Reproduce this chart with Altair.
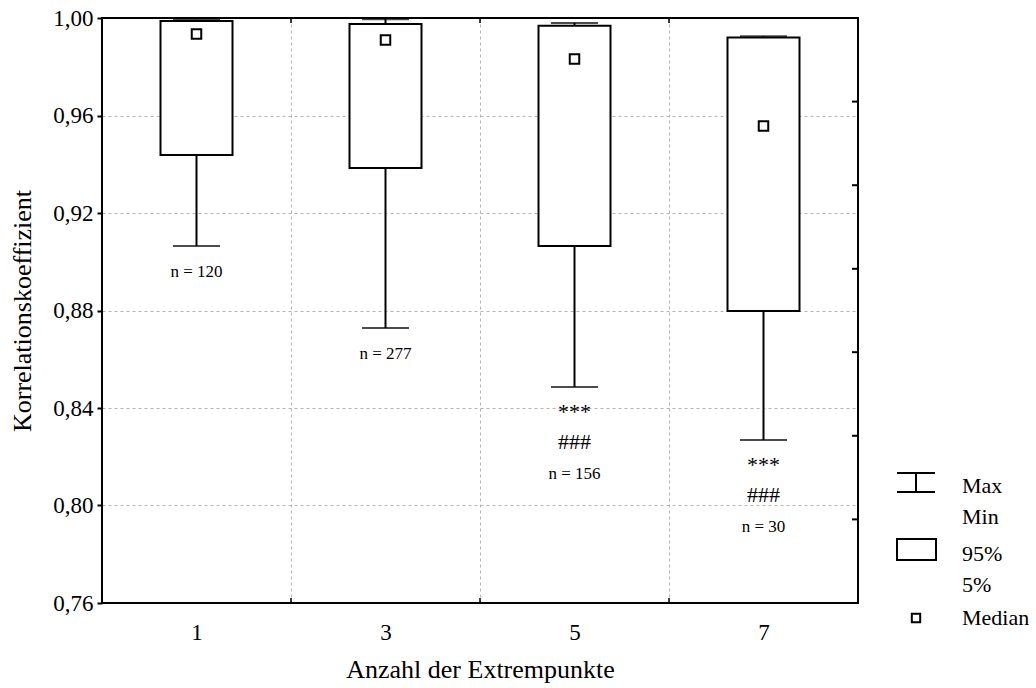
import altair as alt
import pandas as pd

# ---- data ----
categories = ["1", "3", "5", "7"]
max_vals = [0.9993, 0.9995, 0.9980, 0.9925]
p95_vals = [0.9988, 0.9975, 0.9968, 0.9920]
median_vals = [0.9934, 0.9910, 0.9832, 0.9557]
p5_vals = [0.9438, 0.9385, 0.9065, 0.8798]
min_vals = [0.9065, 0.8728, 0.8486, 0.8269]
n_labels = ["n = 120", "n = 277", "n = 156", "n = 30"]
star_labels = ["", "", "***", "***"]
hash_labels = ["", "", "###", "###"]
y_ticks = [0.76, 0.80, 0.84, 0.88, 0.92, 0.96, 1.00]
right_ticks = [0.7943, 0.8286, 0.8629, 0.8971, 0.9314, 0.9657]
legend_labels = ["Max", "Min", "95%", "5%", "Median"]

df = pd.DataFrame({
    "cat": categories, "max": max_vals, "p95": p95_vals, "median": median_vals,
    "p5": p5_vals, "min": min_vals, "n": n_labels, "stars": star_labels,
    "hashes": hash_labels,
})
df_right = pd.DataFrame({"v": right_ticks})
one = pd.DataFrame({"k": [0]})

W, H = 756, 585
FONT = "Liberation Serif"
GRID = "#b4b4b4"

yscale = alt.Scale(domain=[0.76, 1.0], nice=False, zero=False)
yaxis = alt.Axis(
    values=y_ticks,
    labelExpr="replace(format(datum.value, '.2f'), '.', ',')",
    grid=True, gridDash=[3, 3], gridColor=GRID, gridWidth=1,
    domain=False, tickSize=5, tickColor="black", tickWidth=2,
    labelFontSize=23, labelPadding=4, labelColor="black", labelFont=FONT,
    titleFontSize=26, titleFont=FONT, titleFontWeight="normal", titleColor="black",
    titlePadding=17,
)
TITLE_Y = "Korrelationskoeffizient"


def Y(field):
    return alt.Y(field, type="quantitative", scale=yscale, axis=yaxis, title=TITLE_Y)


def Y2(field):
    return alt.Y2(field)


X = alt.X(
    "cat:N", sort=categories, title="Anzahl der Extrempunkte",
    scale=alt.Scale(paddingInner=0, paddingOuter=0),
    axis=alt.Axis(
        labelAngle=0, grid=True, tickBand="extent", gridDash=[3, 3], gridColor=GRID,
        gridWidth=1, ticks=False, domain=False,
        labelFontSize=23, labelPadding=18, labelColor="black", labelFont=FONT,
        titleFontSize=26, titleFont=FONT, titleFontWeight="normal", titleColor="black",
        titlePadding=12,
    ),
)

base = alt.Chart(df).encode(x=X)

whisk_lo = base.mark_rule(color="black", strokeWidth=2).encode(y=Y("min"), y2=Y2("p5"))
whisk_hi = base.mark_rule(color="black", strokeWidth=2).encode(y=Y("p95"), y2=Y2("max"))
boxes = base.mark_bar(size=72, fill="white", stroke="black", strokeWidth=2).encode(
    y=Y("p5"), y2=Y2("p95"))
cap_lo = base.mark_tick(size=47, thickness=2, color="black", orient="horizontal").encode(y=Y("min"))
cap_hi = base.mark_tick(size=47, thickness=2, color="black", orient="horizontal").encode(y=Y("max"))
med = base.mark_point(shape="square", size=90, filled=False, stroke="black",
                      strokeWidth=2, opacity=1).encode(y=Y("median"))

stars = base.mark_text(font=FONT, fontSize=22, color="black", dy=25, baseline="middle").encode(
    y=Y("min"), text="stars:N")
hashes = base.mark_text(font=FONT, fontSize=22, color="black", dy=55, baseline="middle").encode(
    y=Y("min"), text="hashes:N")
n_plain = base.mark_text(font=FONT, fontSize=17, color="black", dy=26, baseline="middle").transform_filter(
    "datum.stars == ''").encode(y=Y("min"), text="n:N")
n_starred = base.mark_text(font=FONT, fontSize=17, color="black", dy=87, baseline="middle").transform_filter(
    "datum.stars != ''").encode(y=Y("min"), text="n:N")

right_tk = alt.Chart(df_right).mark_rule(color="black", strokeWidth=2).encode(
    y=Y("v"), x=alt.value(W - 6), x2=alt.value(W))

# inward ticks at the category boundaries on the top and bottom edges
bnd = base.transform_filter("datum.cat != '1'")
top_tk = bnd.mark_rule(color="black", strokeWidth=1.5, xOffset=-94.5).encode(
    y=alt.value(0), y2=alt.value(5))
bot_tk = bnd.mark_rule(color="black", strokeWidth=1.5, xOffset=-94.5).encode(
    y=alt.value(H - 5), y2=alt.value(H))

# frame drawn on top of the grid
frame = alt.Chart(one).mark_rect(fill=None, stroke="black", strokeWidth=2).encode(
    x=alt.value(0), x2=alt.value(W), y=alt.value(0), y2=alt.value(H))

# ---- custom legend at the right ----
LX0, LX1, LXC, TX = 795, 833, 814, 860
leg = []
leg.append(alt.Chart(one).mark_rule(color="black", strokeWidth=2).encode(
    x=alt.value(LX0), x2=alt.value(LX1), y=alt.value(455)))
leg.append(alt.Chart(one).mark_rule(color="black", strokeWidth=2).encode(
    x=alt.value(LX0), x2=alt.value(LX1), y=alt.value(474)))
leg.append(alt.Chart(one).mark_rule(color="black", strokeWidth=2).encode(
    x=alt.value(LXC), y=alt.value(455), y2=alt.value(474)))
leg.append(alt.Chart(one).mark_rect(fill="white", stroke="black", strokeWidth=2).encode(
    x=alt.value(LX0), x2=alt.value(LX1 + 1), y=alt.value(521), y2=alt.value(542)))
leg.append(alt.Chart(one).mark_point(shape="square", size=70, filled=False, stroke="black",
                                      strokeWidth=2, opacity=1).encode(
    x=alt.value(LXC), y=alt.value(600)))
for lab, ty in zip(legend_labels, [468, 499, 536, 567, 600]):
    leg.append(alt.Chart(one).mark_text(font=FONT, fontSize=22, color="black", align="left",
                                         baseline="middle").encode(
        x=alt.value(TX), y=alt.value(ty), text=alt.value(lab)))

chart = alt.layer(
    whisk_lo, whisk_hi, boxes, cap_lo, cap_hi, med, stars, hashes, n_plain, n_starred,
    right_tk, top_tk, bot_tk, frame, *leg,
).properties(
    width=W, height=H,
    autosize=alt.AutoSizeParams(type="none"),
    padding={"left": 102, "top": 18, "right": 178, "bottom": 85},
    background="white",
).configure_view(stroke=None)

chart.save("out.html", embed_options={"renderer": "svg", "actions": False})
